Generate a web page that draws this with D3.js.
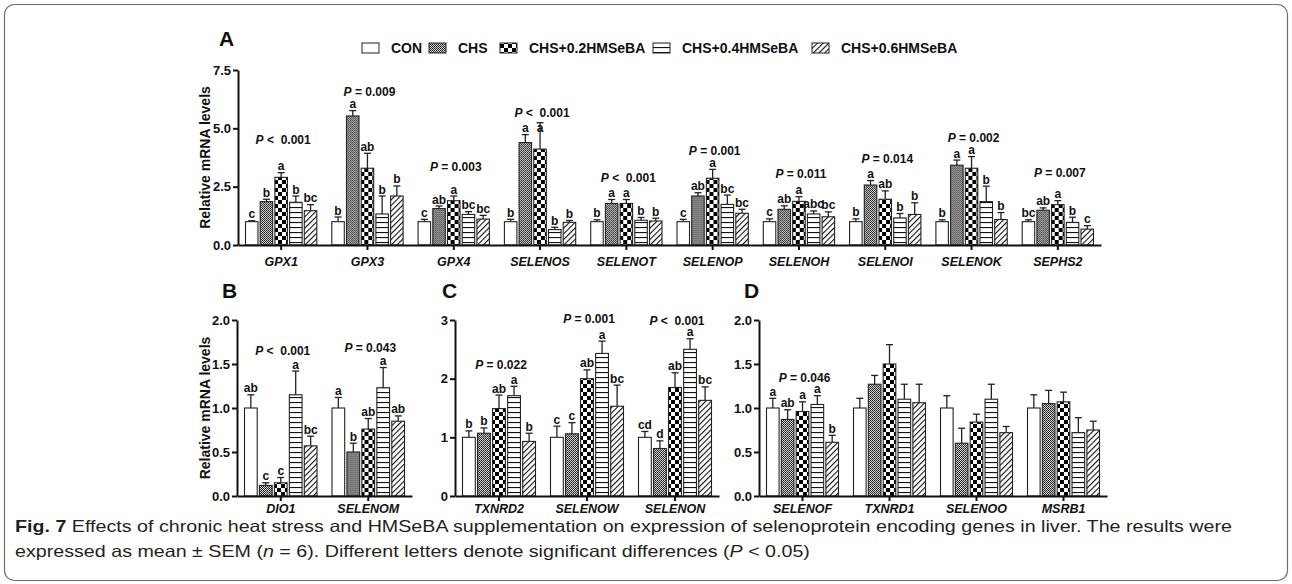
<!DOCTYPE html>
<html><head><meta charset="utf-8">
<script src="https://cdn.jsdelivr.net/npm/d3@7"></script>
<style>
body{margin:0;background:#fff;}
svg text{font-family:"Liberation Sans",Arial,sans-serif;fill:#111;}
</style></head>
<body><svg id="c" width="1292" height="584"></svg>
<script>
// ---------- DATA ----------
const series = ["CON","CHS","CHS+0.2HMSeBA","CHS+0.4HMSeBA","CHS+0.6HMSeBA"];

const genesA = ["GPX1","GPX3","GPX4","SELENOS","SELENOT","SELENOP","SELENOH","SELENOI","SELENOK","SEPHS2"];
const meanA = [
  [1.0,1.86,2.90,1.83,1.47],
  [1.0,5.53,3.29,1.33,2.10],
  [1.0,1.56,1.90,1.31,1.11],
  [1.0,4.39,4.11,0.66,0.97],
  [1.0,1.78,1.78,1.06,1.03],
  [1.0,2.10,2.86,1.74,1.36],
  [1.0,1.53,1.87,1.33,1.21],
  [1.0,2.57,1.96,1.16,1.31],
  [1.0,3.42,3.29,1.86,1.09],
  [1.0,1.49,1.73,0.97,0.68]
];
const semA = [
  [0.04,0.10,0.20,0.27,0.26],
  [0.20,0.23,0.64,0.77,0.43],
  [0.10,0.11,0.20,0.12,0.16],
  [0.10,0.34,1.13,0.10,0.08],
  [0.08,0.17,0.17,0.12,0.12],
  [0.10,0.14,0.38,0.40,0.17],
  [0.12,0.15,0.20,0.13,0.21],
  [0.12,0.19,0.36,0.19,0.50],
  [0.08,0.22,0.50,0.66,0.30],
  [0.08,0.10,0.17,0.22,0.15]
];
const lettersA = [
  ["c","b","a","b","bc"],
  ["b","a","ab","b","b"],
  ["c","ab","a","bc","bc"],
  ["b","a","a","b","b"],
  ["b","a","a","b","b"],
  ["c","ab","a","bc","bc"],
  ["c","ab","a","abc","bc"],
  ["b","a","ab","b","b"],
  ["b","a","a","b","b"],
  ["bc","ab","a","b","c"]
];
// letter placed at a given value instead of above its error bar (null = above error bar)
const letterLevelA = [null,null,null,[null,null,4.73,null,null],null,null,null,null,null,null];
const pTextA = ["<  0.001","= 0.009","= 0.003","<  0.001","<  0.001","= 0.001","= 0.011","= 0.014","= 0.002","= 0.007"];
const pLevelA = [4.33,6.39,3.17,5.49,2.70,3.85,2.87,3.51,4.40,2.91];
const ticksA = [0,2.5,5.0,7.5];

const genesB = ["DIO1","SELENOM"];
const meanB = [[1.0,0.12,0.15,1.15,0.57],[1.0,0.50,0.76,1.23,0.85]];
const semB = [[0.15,0.03,0.06,0.27,0.11],[0.12,0.10,0.12,0.23,0.06]];
const lettersB = [["ab","c","c","a","bc"],["a","b","ab","a","ab"]];
const pTextB = ["<  0.001","= 0.043"];
const pLevelB = [1.60,1.64];
const ticksB = [0,0.5,1.0,1.5,2.0];

const genesC = ["TXNRD2","SELENOW","SELENON"];
const meanC = [[1.0,1.07,1.49,1.71,0.93],[1.0,1.06,2.00,2.43,1.53],[1.0,0.81,1.85,2.50,1.63]];
const semC = [[0.11,0.09,0.23,0.16,0.14],[0.19,0.19,0.15,0.21,0.36],[0.10,0.13,0.25,0.18,0.23]];
const lettersC = [["b","b","ab","a","b"],["c","c","ab","a","bc"],["cd","d","ab","a","bc"]];
const pTextC = ["= 0.022","= 0.001","<  0.001"];
const pLevelC = [2.16,2.95,2.92];
const ticksC = [0,1,2,3];

const genesD = ["SELENOF","TXNRD1","SELENOO","MSRB1"];
const meanD = [[1.0,0.87,0.96,1.04,0.61],[1.0,1.27,1.50,1.10,1.06],[1.0,0.60,0.84,1.10,0.72],[1.0,1.05,1.07,0.72,0.75]];
const semD = [[0.11,0.11,0.11,0.10,0.08],[0.11,0.10,0.22,0.17,0.21],[0.14,0.17,0.09,0.17,0.07],[0.15,0.15,0.11,0.17,0.10]];
const lettersD = [["a","ab","a","a","b"],null,null,null];
const pTextD = ["= 0.046",null,null,null];
const pLevelD = [1.30,null,null,null];
const ticksD = [0,0.5,1.0,1.5,2.0];

const captionBold = "Fig. 7";
const captionLine1 = " Effects of chronic heat stress and HMSeBA supplementation on expression of selenoprotein encoding genes in liver. The results were";

// ---------- DRAW ----------
const svg = d3.select("#c");
const defs = svg.append("defs");

const pCHS = defs.append("pattern").attr("id","pCHS").attr("patternUnits","userSpaceOnUse").attr("width",2).attr("height",2);
pCHS.append("rect").attr("width",2).attr("height",2).attr("fill","#d0d0d0");
pCHS.append("rect").attr("width",1).attr("height",1).attr("fill","#1a1a1a");
pCHS.append("rect").attr("x",1).attr("y",1).attr("width",1).attr("height",1).attr("fill","#3a3a3a");

const pChk = defs.append("pattern").attr("id","pChk").attr("patternUnits","userSpaceOnUse").attr("width",8).attr("height",8);
pChk.append("rect").attr("width",8).attr("height",8).attr("fill","#fff");
pChk.append("rect").attr("width",4).attr("height",4).attr("fill","#000");
pChk.append("rect").attr("x",4).attr("y",4).attr("width",4).attr("height",4).attr("fill","#000");

const pHor = defs.append("pattern").attr("id","pHor").attr("patternUnits","userSpaceOnUse").attr("width",5).attr("height",5);
pHor.append("rect").attr("width",5).attr("height",5).attr("fill","#fff");
pHor.append("rect").attr("y",2).attr("width",5).attr("height",1.1).attr("fill","#111");

const pDia = defs.append("pattern").attr("id","pDia").attr("patternUnits","userSpaceOnUse").attr("width",4).attr("height",4).attr("patternTransform","rotate(45)");
pDia.append("rect").attr("width",4).attr("height",4).attr("fill","#fff");
pDia.append("rect").attr("width",1.1).attr("height",4).attr("fill","#111");

const fills = ["#fff","url(#pCHS)","url(#pChk)","url(#pHor)","url(#pDia)"];
const color = d3.scaleOrdinal().domain(series).range(fills);

// frame
svg.append("rect").attr("x",4.5).attr("y",4.5).attr("width",1283).attr("height",576)
  .attr("rx",10).attr("fill","none").attr("stroke","#6d6e70").attr("stroke-width",1.2);

function drawPanel(o){
  const n = o.genes.length;
  const x = d3.scaleBand().domain(o.genes).range([o.x0, o.x0 + n*o.gw]);
  const xi = d3.scaleBand().domain(series).range([7.5, o.gw-7.5]).paddingInner(0.15);
  const y = d3.scaleLinear().domain(o.domain).range([o.yBase, o.yTop]);
  const g = svg.append("g");

  o.genes.forEach((gene,gi)=>{
    const gg = g.append("g").attr("transform",`translate(${x(gene)},0)`);
    series.forEach((s,si)=>{
      const m = o.means[gi][si], e = o.sems[gi][si];
      const bx = xi(s), bw = xi.bandwidth(), cx = bx + bw/2;
      gg.append("line").attr("x1",cx).attr("x2",cx).attr("y1",y(m)).attr("y2",y(m+e))
        .attr("stroke","#222").attr("stroke-width",1.3);
      gg.append("line").attr("x1",cx-3.5).attr("x2",cx+3.5).attr("y1",y(m+e)).attr("y2",y(m+e))
        .attr("stroke","#222").attr("stroke-width",1.3);
      gg.append("rect").attr("x",bx).attr("y",y(m)).attr("width",bw).attr("height",y(0)-y(m))
        .attr("fill",color(s)).attr("stroke","#222").attr("stroke-width",1.1);
      if(o.letters && o.letters[gi]){
        const lv = (o.letterLevel && o.letterLevel[gi] && o.letterLevel[gi][si] != null) ? o.letterLevel[gi][si] : m+e;
        gg.append("text").attr("x",cx).attr("y",y(lv)-2.5).attr("text-anchor","middle")
          .attr("font-size",12).attr("font-weight","bold").text(o.letters[gi][si]);
      }
    });
    if(o.pText[gi]){
      const t = gg.append("text").attr("x",o.gw/2 + 2).attr("y",y(o.pLevel[gi]))
        .attr("text-anchor","middle").attr("font-size",12).attr("font-weight","bold")
        .style("white-space","pre");
      t.append("tspan").attr("font-style","italic").text("P");
      t.append("tspan").text(" " + o.pText[gi]);
    }
  });

  const ya = g.append("g").attr("transform",`translate(${o.x0},0)`)
    .call(d3.axisLeft(y).tickValues(o.ticks).tickFormat(o.fmt).tickSize(5).tickSizeOuter(0).tickPadding(2));
  ya.select(".domain").attr("stroke","#111").attr("stroke-width",2);
  ya.selectAll(".tick line").attr("stroke","#111").attr("stroke-width",2);
  ya.selectAll(".tick text").attr("font-size",13).attr("font-weight","bold").attr("fill","#111");

  const xa = g.append("g").attr("transform",`translate(0,${o.yBase})`)
    .call(d3.axisBottom(x).tickSize(5).tickSizeOuter(0).tickPadding(o.xpad));
  xa.select(".domain").attr("stroke","#111").attr("stroke-width",2);
  xa.selectAll(".tick line").attr("stroke","#111").attr("stroke-width",2);
  xa.selectAll(".tick text").attr("font-size",12.5).attr("font-weight","bold").attr("font-style","italic")
    .attr("fill","#111");

  if(o.title){
    svg.append("text").attr("transform",`translate(${o.titleX},${(o.yBase+o.yTop)/2}) rotate(-90)`)
      .attr("text-anchor","middle").attr("dy","0.35em").attr("font-size",14).attr("font-weight","bold")
      .text("Relative mRNA levels");
  }
  svg.append("text").attr("x",o.labelX).attr("y",o.labelY).attr("font-size",21).attr("font-weight","bold")
    .text(o.label);
}

const f1 = d3.format(".1f"), f0 = d3.format("d");
drawPanel({x0:238, gw:86.3, yBase:245, yTop:70, domain:[0,7.5], ticks:ticksA, fmt:f1,
  genes:genesA, means:meanA, sems:semA, letters:lettersA, letterLevel:letterLevelA, pText:pTextA, pLevel:pLevelA,
  title:true, titleX:205, label:"A", labelX:219, labelY:46, xpad:7});
drawPanel({x0:237, gw:87.5, yBase:496, yTop:320, domain:[0,2], ticks:ticksB, fmt:f1,
  genes:genesB, means:meanB, sems:semB, letters:lettersB, pText:pTextB, pLevel:pLevelB,
  title:true, titleX:205, label:"B", labelX:222, labelY:298, xpad:3});
drawPanel({x0:455, gw:88, yBase:496, yTop:320, domain:[0,3], ticks:ticksC, fmt:f0,
  genes:genesC, means:meanC, sems:semC, letters:lettersC, pText:pTextC, pLevel:pLevelC,
  title:false, label:"C", labelX:442, labelY:298, xpad:3});
drawPanel({x0:759, gw:87, yBase:496, yTop:320, domain:[0,2], ticks:ticksD, fmt:f1,
  genes:genesD, means:meanD, sems:semD, letters:lettersD, pText:pTextD, pLevel:pLevelD,
  title:false, label:"D", labelX:744, labelY:298, xpad:3});

// legend
const legX = [362, 429, 500, 653, 812];
const leg = svg.append("g");
series.forEach((s,i)=>{
  leg.append("rect").attr("x",legX[i]).attr("y",43).attr("width",17).attr("height",10)
    .attr("fill",color(s)).attr("stroke","#222").attr("stroke-width",1);
  leg.append("text").attr("x",legX[i]+29).attr("y",53).attr("font-size",14).attr("font-weight","bold").text(s);
});

// caption
const c1 = svg.append("text").attr("x",15).attr("y",532).attr("font-size",16.5).style("white-space","pre")
  .style("fill","#231f20");
c1.append("tspan").attr("font-weight","bold").text(captionBold);
c1.append("tspan").text(captionLine1);
const c2 = svg.append("text").attr("x",15).attr("y",557).attr("font-size",16.5).style("white-space","pre")
  .style("fill","#231f20");
c2.append("tspan").text("expressed as mean ± SEM (");
c2.append("tspan").attr("font-style","italic").text("n");
c2.append("tspan").text(" = 6). Different letters denote significant differences (");
c2.append("tspan").attr("font-style","italic").text("P");
c2.append("tspan").text(" < 0.05)");
const w1 = c1.node().getComputedTextLength();
const w2 = c2.node().getComputedTextLength();
const k = 1217 / w1;
c1.attr("textLength",1217).attr("lengthAdjust","spacingAndGlyphs");
c2.attr("textLength",w2 * k).attr("lengthAdjust","spacingAndGlyphs");
</script>
</body></html>
